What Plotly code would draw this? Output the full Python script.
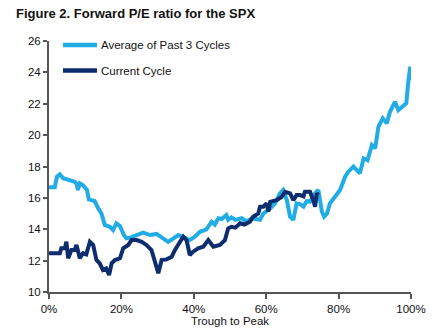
import plotly.graph_objects as go

# Trough-to-peak progress (%) and forward P/E
avg_x = [0, 1.6, 2.2, 3.0, 3.9, 5.3, 7.1, 7.6, 8.0, 8.5, 9.4, 10.5, 11.0, 11.7, 12.6, 13.6, 14.5, 15.0,
         15.4, 16.8, 17.7, 18.6, 19.6, 20.7, 21.4, 22.8, 24.2, 26.0, 27.9, 29.7, 31.5, 32.9, 34.3, 35.7,
         37.1, 38.9, 40.3, 41.7, 43.5, 44.9, 45.8, 46.8, 47.7, 49.0, 49.5, 50.4, 51.5, 53.2, 54.6, 56.0,
         58.3, 59.2, 61.1, 62.4, 63.8, 64.7, 65.7, 66.6, 67.5, 68.4, 69.3, 70.3, 71.2, 72.1, 73.5, 74.4,
         75.4, 76.0, 76.8, 77.6, 79.0, 80.4, 81.8, 82.3, 82.7, 84.1, 85.9, 86.9, 88.0, 89.2, 90.1, 91.0,
         92.2, 93.3, 94.2, 95.6, 96.5, 97.5, 98.7, 99.3, 99.8, 100]
avg_pe = [16.67, 16.67, 17.35, 17.5, 17.25, 17.14, 17.03, 16.9, 16.5, 16.93, 16.8, 16.5, 15.9, 15.86, 15.8,
          15.33, 15.0, 14.6, 14.27, 14.16, 13.95, 14.38, 14.2, 13.63, 13.42, 13.5, 13.63, 13.78, 13.63,
          13.7, 13.42, 13.2, 13.4, 13.63, 13.5, 13.31, 13.52, 13.84, 14.0, 14.48, 14.3, 14.7, 14.65, 14.9,
          14.6, 14.75, 14.6, 14.7, 14.5, 14.7, 14.6, 15.0, 15.33, 15.65, 16.29, 16.5, 15.86, 14.8, 14.6,
          15.65, 15.6, 15.44, 15.8, 15.75, 16.29, 16.5, 15.12, 14.8, 15.0, 15.65, 16.07, 16.5, 17.35, 17.56,
          17.67, 17.99, 17.56, 18.52, 18.4, 19.37, 19.16, 20.54, 21.07, 20.75, 21.49, 22.13, 21.6, 21.8,
          22.03, 23.5, 24.36, 23.5]

cur_x = [0, 3.0, 3.4, 4.4, 4.8, 5.3, 6.2, 7.1, 7.6, 8.5, 9.4, 10.3, 11.3, 12.2, 13.1, 14.0, 14.9, 15.8,
         16.6, 17.3, 18.2, 19.6, 20.5, 21.9, 22.8, 24.2, 25.6, 26.9, 28.3, 29.2, 30.2, 31.1, 32.5, 33.9,
         34.8, 36.2, 37.1, 38.0, 38.9, 39.8, 41.2, 42.6, 44.0, 45.4, 47.2, 48.6, 49.5, 50.4, 51.5, 52.8,
         54.0, 55.5, 56.4, 57.8, 58.3, 59.2, 60.1, 60.6, 61.1, 62.9, 64.3, 65.2, 66.6, 67.5, 68.4, 69.3,
         70.3, 70.7, 72.1, 73.0, 73.5, 74.0, 74.4]
cur_pe = [12.47, 12.47, 12.79, 12.79, 13.2, 12.15, 12.68, 12.68, 13.0, 12.15, 12.47, 12.4, 13.2, 13.0,
          12.04, 11.83, 11.4, 11.5, 11.08, 11.83, 12.04, 12.15, 12.79, 13.0, 13.31, 13.31, 13.2, 13.0,
          12.68, 12.04, 11.2, 12.04, 12.08, 12.25, 12.68, 13.2, 13.52, 13.3, 12.36, 12.57, 12.79, 12.89,
          13.31, 12.89, 13.0, 13.31, 14.06, 14.16, 14.1, 14.38, 14.3, 14.48, 14.8, 15.0, 15.44, 15.44,
          15.65, 15.12, 15.75, 15.86, 16.07, 16.39, 16.29, 15.86, 16.18, 16.18, 16.1, 16.39, 16.39, 15.86,
          15.44, 16.29, 16.18]

series_names = ["Average of Past 3 Cycles", "Current Cycle"]
x_ticks = [0, 20, 40, 60, 80, 100]
x_tick_labels = ["0%", "20%", "40%", "60%", "80%", "100%"]
y_ticks = [10, 12, 14, 16, 18, 20, 22, 24, 26]

LIGHT = "#21ACE6"
DARK = "#0E2D6E"
AXIS = "#555555"
FONT = "Liberation Sans, Arial, sans-serif"

fig = go.Figure()
fig.add_trace(go.Scatter(x=avg_x, y=avg_pe, mode="lines", name=series_names[0],
                         line=dict(color=LIGHT, width=4), showlegend=False))
fig.add_trace(go.Scatter(x=cur_x, y=cur_pe, mode="lines", name=series_names[1],
                         line=dict(color=DARK, width=4), showlegend=False))

# manual legend
W, H = 443, 336
L, R, T, B = 49, 411, 41, 292
def px(xp):
    return (xp - L) / (R - L)
def py(yp):
    return (B - yp) / (B - T)

for name, col, ypix in [(series_names[0], LIGHT, 45), (series_names[1], DARK, 70.5)]:
    fig.add_shape(type="line", xref="paper", yref="paper", x0=px(63), x1=px(97), y0=py(ypix), y1=py(ypix),
                  line=dict(color=col, width=4.5))
    fig.add_annotation(xref="paper", yref="paper", x=px(99), y=py(ypix), text=name, showarrow=False,
                       xanchor="left", yanchor="middle", font=dict(size=11.5, color="#111111", family=FONT))

fig.update_layout(
    width=W, height=H,
    margin=dict(l=L, r=W - R, t=T, b=H - B),
    paper_bgcolor="white", plot_bgcolor="white",
    title=dict(text="<b>Figure 2. Forward P/E ratio for the SPX</b>", x=16 / W, xanchor="left",
               xref="container", y=1 - 13 / H, yanchor="middle", yref="container",
               font=dict(size=13, color="#111111", family=FONT)),
    font=dict(family=FONT, size=11, color="#111111"),
)
fig.update_xaxes(range=[0, 100], tickvals=x_ticks, ticktext=x_tick_labels, showgrid=False, zeroline=False,
                 showline=True, linecolor=AXIS, linewidth=2, ticks="outside", ticklen=5, tickcolor=AXIS,
                 tickwidth=1.5, tickfont=dict(size=11.5), title=dict(text="Trough to Peak", font=dict(size=11.5), standoff=2))
fig.update_yaxes(range=[10, 26], tickvals=y_ticks, showgrid=False, zeroline=False,
                 showline=True, linecolor=AXIS, linewidth=2, ticks="outside", ticklen=4, tickcolor=AXIS,
                 tickwidth=1.5, tickfont=dict(size=11.5))

fig.write_html("out.html")
